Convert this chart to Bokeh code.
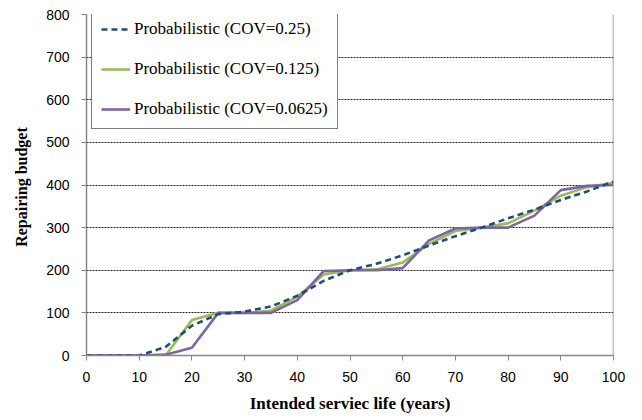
from bokeh.plotting import figure
from bokeh.models import Legend, LegendItem, Range1d, FixedTicker, Span
from bokeh.embed import file_html
from bokeh.resources import INLINE

years = [0, 5, 10, 15, 20, 25, 30, 35, 40, 45, 50, 55, 60, 65, 70, 75, 80, 85, 90, 95, 100]
cov_025 = [0, 0, 0, 20, 70, 97, 103, 115, 140, 175, 200, 215, 235, 258, 280, 300, 322, 342, 365, 385, 408]
cov_0125 = [0, 0, 0, 0, 83, 100, 100, 105, 138, 190, 200, 202, 218, 262, 292, 300, 310, 340, 375, 395, 405]
cov_00625 = [0, 0, 0, 2, 18, 100, 100, 100, 130, 198, 200, 200, 205, 270, 298, 300, 300, 328, 388, 398, 400]
labels = ["Probabilistic (COV=0.25)", "Probabilistic (COV=0.125)", "Probabilistic (COV=0.0625)"]
x_ticks = [0, 10, 20, 30, 40, 50, 60, 70, 80, 90, 100]
y_ticks = [0, 100, 200, 300, 400, 500, 600, 700, 800]

p = figure(width=634, height=418, output_backend="svg", toolbar_location=None,
           x_range=Range1d(0, 100), y_range=Range1d(0, 800),
           min_border_left=86, min_border_top=14, min_border_right=21, min_border_bottom=63)
p.outline_line_color = None
p.background_fill_color = "white"

g = p.line(years, cov_0125, line_color="#9BBB59", line_width=2.6)
pu = p.line(years, cov_00625, line_color="#8064A2", line_width=2.6)
b = p.line(years, cov_025, line_color="#1F4E79", line_width=2.6, line_dash="6 4")

p.add_layout(Span(location=100, dimension="height", line_color="#868686", line_width=1.5))

p.xgrid.grid_line_color = None
p.ygrid.grid_line_color = "#222222"
p.ygrid.grid_line_dash = "2 1"
p.ygrid.grid_line_width = 1

for ax in (p.xaxis, p.yaxis):
    ax.axis_line_color = "#868686"
    ax.axis_line_width = 1.5
    ax.major_tick_line_color = "#868686"
    ax.major_tick_out = 5
    ax.major_tick_in = 0
    ax.minor_tick_line_color = None
    ax.major_label_text_font = "Liberation Sans"
    ax.major_label_text_font_size = "14px"
    ax.major_label_text_color = "black"
    ax.axis_label_text_font = "Liberation Serif"
    ax.axis_label_text_font_style = "bold"
    ax.axis_label_text_color = "black"

p.xaxis.axis_label_text_font_size = "17px"
p.yaxis.axis_label_text_font_size = "16px"
p.xaxis.ticker = FixedTicker(ticks=x_ticks)
p.yaxis.ticker = FixedTicker(ticks=y_ticks)
p.xaxis.major_label_standoff = 11
p.yaxis.major_label_standoff = 12
p.xaxis.axis_label = "Intended serviec life (years)"
p.yaxis.axis_label = "Repairing  budget"
p.xaxis.axis_label_standoff = 9
p.yaxis.axis_label_standoff = 13

legend = Legend(items=[LegendItem(label=labels[0], renderers=[b]),
                       LegendItem(label=labels[1], renderers=[g]),
                       LegendItem(label=labels[2], renderers=[pu])],
                location=(5, 226))
legend.label_text_font = "Liberation Serif"
legend.label_text_font_size = "17px"
legend.label_text_color = "black"
legend.padding = 9
legend.spacing = 20
legend.label_height = 18
legend.glyph_height = 18
legend.glyph_width = 29
legend.label_standoff = 4
legend.margin = 0
legend.border_line_color = "black"
legend.border_line_width = 1
legend.background_fill_alpha = 1
p.add_layout(legend)

open("out.html", "w").write(file_html(p, INLINE))
